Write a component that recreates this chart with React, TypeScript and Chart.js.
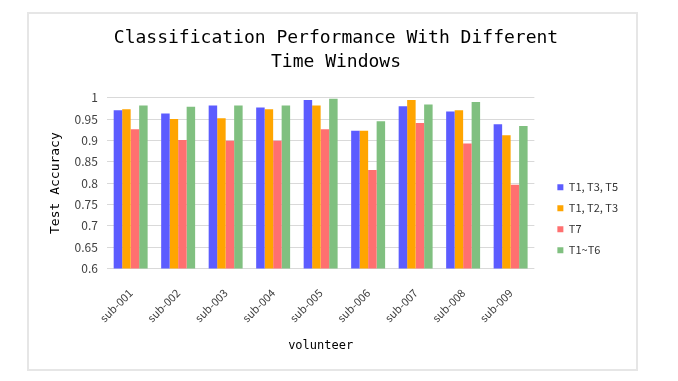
import React, { useEffect, useRef } from 'react';
import { Chart, registerables } from 'chart.js';

Chart.register(...registerables);

const categories = ['sub-001', 'sub-002', 'sub-003', 'sub-004', 'sub-005', 'sub-006', 'sub-007', 'sub-008', 'sub-009'];
const seriesNames = ['T1, T3, T5', 'T1, T2, T3', 'T7', 'T1~T6'];
const t1t3t5 = [0.971, 0.963, 0.982, 0.977, 0.995, 0.923, 0.980, 0.968, 0.938];
const t1t2t3 = [0.973, 0.950, 0.952, 0.973, 0.982, 0.923, 0.995, 0.971, 0.912];
const t7 = [0.926, 0.901, 0.899, 0.899, 0.926, 0.831, 0.941, 0.893, 0.796];
const t1toT6 = [0.982, 0.979, 0.982, 0.982, 0.998, 0.945, 0.984, 0.990, 0.934];
const titleLines = ['Classification Performance With Different', 'Time Windows'];

const colors = ['#5c5cff', '#ffa500', '#ff7070', '#80c080'];
const mono = "'DejaVu Sans Mono', monospace";
const sans = "'Noto Sans CJK SC', 'Noto Sans', sans-serif";

export default function App() {
  const ref = useRef<HTMLCanvasElement>(null);
  useEffect(() => {
    const values = [t1t3t5, t1t2t3, t7, t1toT6];
    const chart = new Chart(ref.current as HTMLCanvasElement, {
      type: 'bar',
      data: {
        labels: categories,
        datasets: values.map((d, i) => ({
          label: seriesNames[i],
          data: d,
          backgroundColor: colors[i],
          borderWidth: 0,
          barPercentage: 1,
          categoryPercentage: 0.715,
        })),
      },
      options: {
        animation: false,
        responsive: false,
        devicePixelRatio: 1,
        font: { family: sans },
        layout: { padding: { left: 15, right: 8, top: 0, bottom: 12 } },
        plugins: {
          tooltip: { enabled: false },
          title: {
            display: true,
            text: titleLines,
            color: '#000',
            font: { family: mono, size: 18, weight: 'normal', lineHeight: 1.3 },
            padding: { top: 13, bottom: 24 },
          },
          legend: {
            position: 'right',
            title: { display: true, text: ' ', padding: { top: 52, bottom: 0 } },
            labels: {
              boxWidth: 6,
              boxHeight: 6,
              padding: 10,
              color: '#333',
              font: { family: sans, size: 11 },
            },
          },
        },
        scales: {
          x: {
            grid: { display: false, drawTicks: false },
            border: { display: false },
            ticks: {
              minRotation: 45,
              maxRotation: 45,
              padding: 18,
              color: '#404040',
              font: { family: sans, size: 11 },
            },
            title: {
              display: true,
              text: 'volunteer',
              color: '#000',
              font: { family: mono, size: 12 },
              padding: { top: -4, bottom: 4 },
            },
          },
          y: {
            min: 0.6,
            max: 1,
            ticks: {
              stepSize: 0.05,
              padding: 9,
              color: '#404040',
              font: { family: sans, size: 12 },
              callback: (v: any) => String(parseFloat(Number(v).toFixed(2))),
            },
            grid: { color: '#d9d9d9', drawTicks: false },
            border: { display: false },
            title: {
              display: true,
              text: 'Test Accuracy',
              color: '#000',
              font: { family: mono, size: 13 },
              padding: { top: 4, bottom: 2 },
            },
          },
          y2: {
            type: 'linear',
            position: 'right',
            display: true,
            ticks: { display: false },
            grid: { display: false, drawTicks: false },
            border: { display: false },
            afterFit: (s: any) => { s.width = 13; },
          },
        },
      },
    });
    return () => chart.destroy();
  }, []);
  return (
    <div
      style={{
        position: 'absolute',
        left: 27,
        top: 12,
        width: 611,
        height: 359,
        border: '2px solid #e6e6e6',
        boxSizing: 'border-box',
        background: '#fff',
      }}
    >
      <canvas ref={ref} width={607} height={355} style={{ display: 'block', width: 607, height: 355 }} />
    </div>
  );
}
